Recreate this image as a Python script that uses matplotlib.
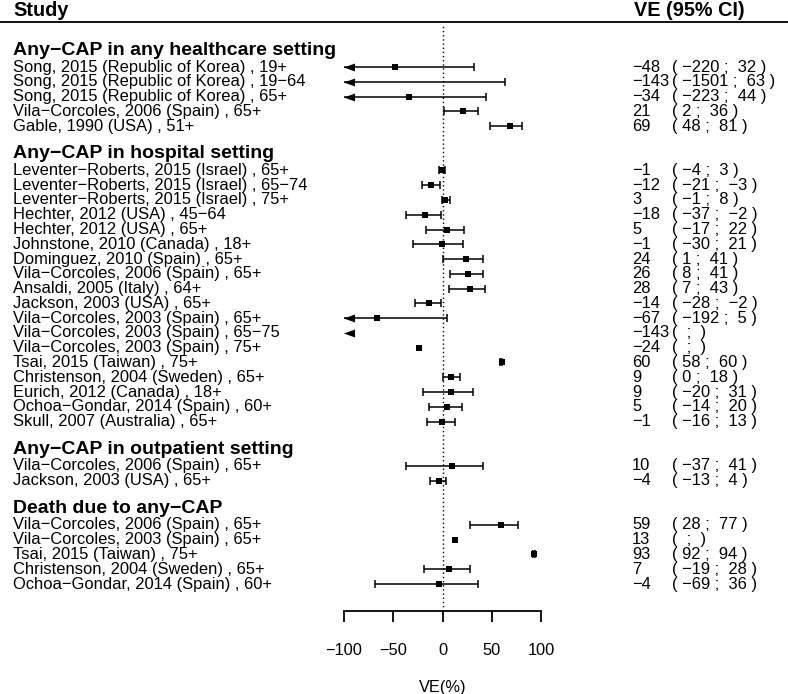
import numpy as np
import matplotlib
matplotlib.use("Agg")
import matplotlib.pyplot as plt
from matplotlib.transforms import blended_transform_factory
from matplotlib.lines import Line2D

plt.rcParams['font.family'] = ['Liberation Sans', 'DejaVu Sans']

M = "\u2212"  # R draws minus signs

group_titles = [
    f"Any{M}CAP in any healthcare setting",
    f"Any{M}CAP in hospital setting",
    f"Any{M}CAP in outpatient setting",
    f"Death due to any{M}CAP",
]

labels = [
    group_titles[0],
    "Song, 2015 (Republic of Korea) , 19+",
    f"Song, 2015 (Republic of Korea) , 19{M}64",
    "Song, 2015 (Republic of Korea) , 65+",
    f"Vila{M}Corcoles, 2006 (Spain) , 65+",
    "Gable, 1990 (USA) , 51+",
    "",
    group_titles[1],
    f"Leventer{M}Roberts, 2015 (Israel) , 65+",
    f"Leventer{M}Roberts, 2015 (Israel) , 65{M}74",
    f"Leventer{M}Roberts, 2015 (Israel) , 75+",
    f"Hechter, 2012 (USA) , 45{M}64",
    "Hechter, 2012 (USA) , 65+",
    "Johnstone, 2010 (Canada) , 18+",
    "Dominguez, 2010 (Spain) , 65+",
    f"Vila{M}Corcoles, 2006 (Spain) , 65+",
    "Ansaldi, 2005 (Italy) , 64+",
    "Jackson, 2003 (USA) , 65+",
    f"Vila{M}Corcoles, 2003 (Spain) , 65+",
    f"Vila{M}Corcoles, 2003 (Spain) , 65{M}75",
    f"Vila{M}Corcoles, 2003 (Spain) , 75+",
    "Tsai, 2015 (Taiwan) , 75+",
    "Christenson, 2004 (Sweden) , 65+",
    "Eurich, 2012 (Canada) , 18+",
    f"Ochoa{M}Gondar, 2014 (Spain) , 60+",
    "Skull, 2007 (Australia) , 65+",
    "",
    group_titles[2],
    f"Vila{M}Corcoles, 2006 (Spain) , 65+",
    "Jackson, 2003 (USA) , 65+",
    "",
    group_titles[3],
    f"Vila{M}Corcoles, 2006 (Spain) , 65+",
    f"Vila{M}Corcoles, 2003 (Spain) , 65+",
    "Tsai, 2015 (Taiwan) , 75+",
    "Christenson, 2004 (Sweden) , 65+",
    f"Ochoa{M}Gondar, 2014 (Spain) , 60+",
]

N = np.nan
ve = [N, -48, -143, -34, 21, 69, N,
      N, -1, -12, 3, -18, 5, -1, 24, 26, 28, -14, -67, -143, -24, 60, 9, 9, 5, -1, N,
      N, 10, -4, N,
      N, 59, 13, 93, 7, -4]
ci_lo = [N, -220, -1501, -223, 2, 48, N,
         N, -4, -21, -1, -37, -17, -30, 1, 8, 7, -28, -192, N, N, 58, 0, -20, -14, -16, N,
         N, -37, -13, N,
         N, 28, N, 92, -19, -69]
ci_hi = [N, 32, 63, 44, 36, 81, N,
         N, 3, -3, 8, -2, 22, 21, 41, 41, 43, -2, 5, N, N, 60, 18, 31, 20, 13, N,
         N, 41, 4, N,
         N, 77, N, 94, 28, 36]

W, H = 788, 694
fig = plt.figure(figsize=(W / 100, H / 100), dpi=100)

# plot region: x -100..100 at px 344..541, rows from px 52 with 14.77 px step
x0, x1 = 344, 541
top_px, bot_px = 25, 611
row0, step = 52.3, 14.77
ax = fig.add_axes([x0 / W, 1 - bot_px / H, (x1 - x0) / W, (bot_px - top_px) / H])
ax.set_xlim(-100, 100)
ax.set_ylim((bot_px - row0) / step, (top_px - row0) / step)

for s in ['top', 'right', 'left']:
    ax.spines[s].set_visible(False)
ax.spines['bottom'].set_linewidth(1.3)
ax.set_yticks([])
ax.set_xticks([-100, -50, 0, 50, 100])
ax.set_xticklabels([f"{M}100", f"{M}50", "0", "50", "100"])
ax.tick_params(axis='x', length=8, width=1.3, pad=15, labelsize=11.8)
ax.set_xlabel("VE(%)", fontsize=11.8, labelpad=16)

ax.axvline(0, color='black', ls=(0, (1, 2)), lw=1.0)

fs = 11.9
tr = blended_transform_factory(fig.transFigure, ax.transData)
lw = 1.1
arrow = [(-1.4, 0), (1.4, 1), (1.4, -1)]
for i, lab in enumerate(labels):
    if lab in group_titles:
        ax.text(13 / W, i - 0.12, lab, transform=tr, fontsize=14, fontweight='bold',
                va='center', ha='left', clip_on=False)
        continue
    if lab == "":
        continue
    ax.text(13 / W, i, lab, transform=tr, fontsize=fs, va='center', ha='left', clip_on=False)
    e, lo, hi = ve[i], ci_lo[i], ci_hi[i]
    # text column
    ax.text(632 / W, i, str(e).replace('-', M), transform=tr, fontsize=fs,
            va='center', ha='left', clip_on=False)
    if np.isnan(lo):
        ci = "(  ;  )"
    else:
        ci = f"( {int(lo)} ;  {int(hi)} )".replace('-', M)
    ax.text(672 / W, i, ci, transform=tr, fontsize=fs, va='center', ha='left', clip_on=False)

    # marks
    if not np.isnan(lo):
        lo_c = max(lo, -100)
        ax.plot([lo_c, hi], [i, i], color='black', lw=lw, solid_capstyle='butt')
        ax.plot([hi], [i], marker='|', ms=6, mew=lw, color='black')
        if lo >= -100:
            ax.plot([lo], [i], marker='|', ms=6, mew=lw, color='black')
        else:
            ax.plot([-94.5], [i], marker=arrow, ms=8, color='black', mew=0)
    if e >= -100:
        ax.plot([e], [i], marker='s', ms=5, color='black', mew=0)
    elif np.isnan(lo):
        ax.plot([-94.5], [i], marker=arrow, ms=8, color='black', mew=0)

# header
fig.text(13 / W, 1 - 10 / H, "Study", fontsize=14.3, fontweight='bold', va='center', ha='left')
fig.text(634 / W, 1 - 10 / H, "VE (95% CI)", fontsize=14.3, fontweight='bold', va='center', ha='left')
fig.add_artist(Line2D([0, 1], [1 - 22 / H, 1 - 22 / H], transform=fig.transFigure,
                      color='black', lw=1.3))

fig.savefig("out.png", dpi=100)
